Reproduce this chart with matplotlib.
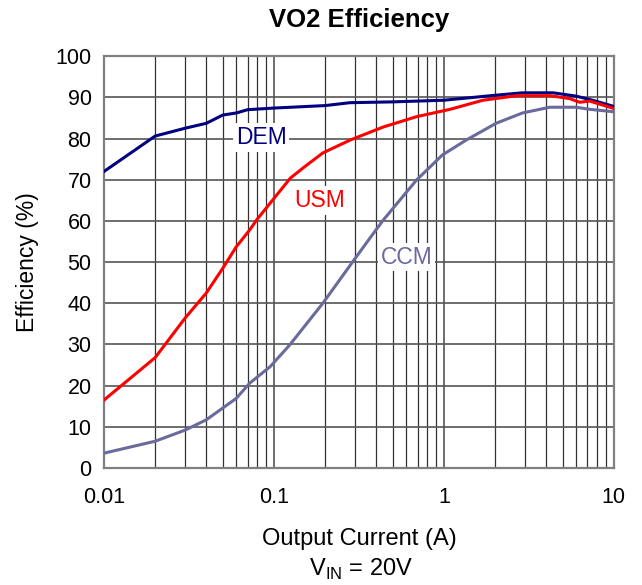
import matplotlib
matplotlib.use("Agg")
import matplotlib.pyplot as plt
from matplotlib.ticker import FixedLocator, LogLocator, NullFormatter

plt.rcParams['font.family'] = ['Liberation Sans', 'DejaVu Sans']
plt.rcParams['mathtext.fontset'] = 'custom'
plt.rcParams['mathtext.rm'] = 'Liberation Sans'

# Efficiency curves (x in A, y in %)
dem_x = [0.01, 0.02, 0.03, 0.04, 0.05, 0.06, 0.07, 0.1, 0.2, 0.28, 0.5, 1, 2, 2.9, 4.4, 6.0, 7.5, 10]
dem_y = [72, 80.6, 82.5, 83.7, 85.7, 86.2, 87, 87.4, 88, 88.7, 88.9, 89.3, 90.5, 91.1, 91.1, 90.3, 89.3, 87.8]

usm_x = [0.01, 0.02, 0.03, 0.04, 0.05, 0.06, 0.072, 0.079, 0.098, 0.125, 0.15, 0.194, 0.28, 0.44, 0.69, 1.09, 1.7, 2.7, 4.2, 5.5, 6.3, 7.2, 10]
usm_y = [16.5, 26.8, 36.4, 42.5, 48.5, 53.7, 57.8, 60.2, 65, 70.4, 73.0, 76.5, 79.6, 82.8, 85.3, 87.1, 89.3, 90.4, 90.4, 89.7, 88.8, 89.1, 87.3]

ccm_x = [0.01, 0.02, 0.03, 0.04, 0.06, 0.072, 0.095, 0.124, 0.194, 0.29, 0.37, 0.44, 0.69, 0.98, 1.35, 2.03, 2.9, 4.2, 6.0, 7.2, 10]
ccm_y = [3.6, 6.5, 9.2, 11.7, 16.9, 20.6, 24.6, 29.9, 40, 50, 56, 60.2, 69.9, 76, 79.6, 83.7, 86.2, 87.6, 87.6, 87.1, 86.5]

x_ticks = [0.01, 0.1, 1, 10]
x_tick_labels = ['0.01', '0.1', '1', '10']
y_ticks = list(range(0, 101, 10))

dem_color = '#000080'
usm_color = '#ff0000'
ccm_color = '#6a6a9c'

fig = plt.figure(figsize=(6.42, 5.85), dpi=100)
ax = fig.add_axes([0.162, 0.2, 0.794, 0.704])

ax.plot(dem_x, dem_y, color=dem_color, lw=2.2, zorder=3)
ax.plot(usm_x, usm_y, color=usm_color, lw=2.2, zorder=3)
ax.plot(ccm_x, ccm_y, color=ccm_color, lw=2.2, zorder=3)

ax.set_xscale('log')
ax.set_xlim(0.01, 10)
ax.set_ylim(0, 100)
ax.xaxis.set_major_locator(FixedLocator(x_ticks))
ax.set_xticklabels(x_tick_labels)
ax.xaxis.set_minor_locator(LogLocator(base=10, subs=range(2, 10)))
ax.xaxis.set_minor_formatter(NullFormatter())
ax.set_yticks(y_ticks)

ax.grid(which='major', color='#555555', lw=1.2)
ax.grid(which='minor', axis='x', color='#333333', lw=0.9)
ax.tick_params(which='both', length=0, labelsize=15.5)
ax.tick_params(axis='x', pad=14)
ax.tick_params(axis='y', pad=9)
for s in ax.spines.values():
    s.set_color('#808080')
    s.set_linewidth(1.6)

label_box = dict(facecolor='white', edgecolor='none', pad=2)
ax.text(0.084, 80.3, 'DEM', color=dem_color, fontsize=16.5, ha='center', va='center', bbox=label_box, zorder=4)
ax.text(0.187, 65, 'USM', color=usm_color, fontsize=16.5, ha='center', va='center', bbox=label_box, zorder=4)
ax.text(0.605, 51.2, 'CCM', color=ccm_color, fontsize=16.5, ha='center', va='center', bbox=label_box, zorder=4)

ax.set_title('VO2 Efficiency', fontsize=18.5, fontweight='bold', pad=21)
ax.set_ylabel('Efficiency (%)', fontsize=16.5, labelpad=12)
ax.set_xlabel('Output Current (A)', fontsize=17, labelpad=14)
fig.text(0.562, 0.026, r'V$_{\mathrm{IN}}$ = 20V', fontsize=17, ha='center', va='center')

fig.savefig('out.png', dpi=100)
